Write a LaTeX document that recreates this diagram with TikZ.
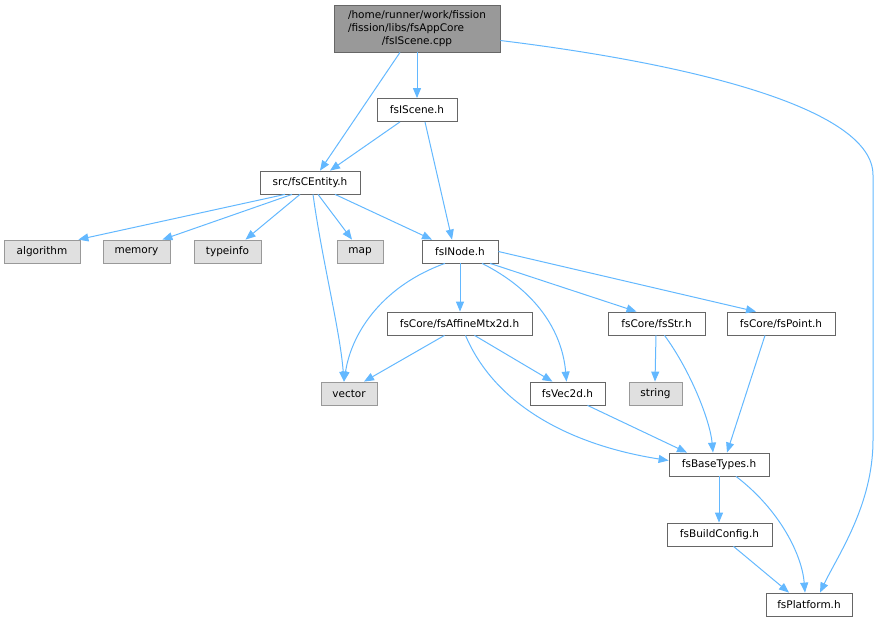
\documentclass[tikz,border=0pt]{standalone}
\usepackage{fontspec}
\setmainfont{DejaVu Sans}
\usetikzlibrary{arrows.meta}
\definecolor{arrowblue}{HTML}{63B8FF}
\definecolor{boxgray}{HTML}{666666}
\definecolor{extfill}{HTML}{E0E0E0}
\definecolor{extdraw}{HTML}{999999}
\definecolor{rootfill}{HTML}{999999}
\begin{document}
\begin{tikzpicture}[x=1pt,y=-1pt,
  file/.style={draw=boxgray, fill=white, line width=0.8pt, inner sep=0pt, font=\fontsize{10.5}{13}\selectfont},
  ext/.style={draw=extdraw, fill=extfill, line width=0.8pt, inner sep=0pt, font=\fontsize{10.5}{13}\selectfont},
  dep/.style={draw=arrowblue, line width=1pt, -{Triangle[length=10pt,width=8pt]}}]
\useasboundingbox (0,0) rectangle (879,623);
% nodes
\node[file, fill=rootfill, minimum width=166pt, minimum height=47pt] (root) at (417,28.5)
  {\begin{tabular}{@{}l@{}}/home/runner/work/fission\\/fission/libs/fsAppCore\\\multicolumn{1}{@{}c@{}}{/fsIScene.cpp}\end{tabular}};
\node[file, minimum width=80pt, minimum height=23pt] (scene) at (417,110) {fsIScene.h};
\node[file, minimum width=100pt, minimum height=23pt] (cent) at (310,182.5) {src/fsCEntity.h};
\node[ext, minimum width=76pt, minimum height=23pt] (algo) at (42,251.5) {algorithm};
\node[ext, minimum width=67pt, minimum height=23pt] (mem) at (136.5,251.5) {memory};
\node[ext, minimum width=67pt, minimum height=23pt] (tinfo) at (227.5,251.5) {typeinfo};
\node[ext, minimum width=46pt, minimum height=23pt] (map) at (360,251.5) {map};
\node[file, minimum width=76pt, minimum height=23pt] (inode) at (460,251.5) {fsINode.h};
\node[file, minimum width=145pt, minimum height=23pt] (affine) at (459.5,323.5) {fsCore/fsAffineMtx2d.h};
\node[file, minimum width=97pt, minimum height=23pt] (str) at (656.5,323.5) {fsCore/fsStr.h};
\node[file, minimum width=108pt, minimum height=23pt] (point) at (781,323.5) {fsCore/fsPoint.h};
\node[ext, minimum width=56pt, minimum height=23pt] (vec) at (349,393.5) {vector};
\node[file, minimum width=75pt, minimum height=23pt] (vec2d) at (567.5,393.5) {fsVec2d.h};
\node[ext, minimum width=53pt, minimum height=23pt] (string) at (655.5,393.5) {string};
\node[file, minimum width=100pt, minimum height=23pt] (base) at (719,464.5) {fsBaseTypes.h};
\node[file, minimum width=105pt, minimum height=23pt] (build) at (719.5,534.5) {fsBuildConfig.h};
\node[file, minimum width=86pt, minimum height=23pt] (plat) at (809,604.5) {fsPlatform.h};
% edges
\draw[dep] (root.south) -- (scene.north);
\draw[dep] ([xshift=-17pt]root.south) -- ([xshift=10pt]cent.north);
\draw[dep] ([yshift=-12pt]root.east) .. controls (700,65) and (873,110) .. (873,175)
  -- (873,440) .. controls (873,505) and (838,555) .. ([xshift=11pt]plat.north);
\draw[dep] ([xshift=-17pt]scene.south) -- ([xshift=20pt]cent.north);
\draw[dep] ([xshift=8pt]scene.south) -- ([xshift=-8pt]inode.north);
\draw[dep] ([xshift=-25pt]cent.south) -- ([xshift=-2pt]algo.north east);
\draw[dep] ([xshift=-18pt]cent.south) -- ([xshift=-8pt]mem.north east);
\draw[dep] ([xshift=-10pt]cent.south) -- ([xshift=18pt]tinfo.north);
\draw[dep] ([xshift=8pt]cent.south) -- ([xshift=-8pt]map.north);
\draw[dep] ([xshift=25pt]cent.south) -- ([xshift=-28pt]inode.north);
\draw[dep] ([xshift=3pt]cent.south) .. controls (322,260) and (340,330) .. ([xshift=-5pt]vec.north);
\draw[dep] ([xshift=-15pt]inode.south) .. controls (385,285) and (352,330) .. ([xshift=-5pt]vec.north);
\draw[dep] (inode.south) -- ([xshift=0.5pt]affine.north);
\draw[dep] ([xshift=22pt]inode.south) .. controls (535,290) and (562,330) .. ([xshift=-1pt]vec2d.north);
\draw[dep] ([xshift=30pt]inode.south) -- ([xshift=-20pt]str.north);
\draw[dep] (inode.east) -- ([xshift=-25pt]point.north);
\draw[dep] ([xshift=-15pt]affine.south) -- ([xshift=15pt]vec.north);
\draw[dep] ([xshift=15pt]affine.south) -- ([xshift=-15pt]vec2d.north);
\draw[dep] ([xshift=6pt]affine.south) .. controls (495,405) and (570,445) .. ([yshift=4pt]base.west);
\draw[dep] ([xshift=20pt]vec2d.south) -- ([xshift=-32pt]base.north);
\draw[dep] ([xshift=-0.5pt]str.south) -- ([xshift=-0.5pt]string.north);
\draw[dep] ([xshift=8pt]str.south) .. controls (690,370) and (710,420) .. ([xshift=-6pt]base.north);
\draw[dep] ([xshift=-16pt]point.south) -- ([xshift=8pt]base.north);
\draw[dep] (base.south) -- ([xshift=-0.5pt]build.north);
\draw[dep] ([xshift=17pt]base.south) .. controls (780,510) and (802,555) .. ([xshift=-4pt]plat.north);
\draw[dep] ([xshift=14pt]build.south) -- ([xshift=-20pt]plat.north);
\end{tikzpicture}
\end{document}
